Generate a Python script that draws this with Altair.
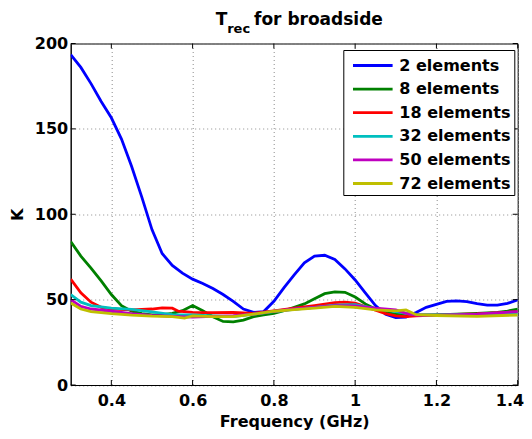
import altair as alt
import pandas as pd

# ---- data ----
labels = ["2 elements", "8 elements", "18 elements", "32 elements", "50 elements", "72 elements"]
colors = ["#0000FF", "#008000", "#FF0000", "#00BFBF", "#BF00BF", "#BFBF00"]

f_2 = [0.30, 0.325, 0.35, 0.375, 0.40, 0.425, 0.45, 0.475, 0.50, 0.525, 0.55, 0.575, 0.60, 0.625,
       0.65, 0.675, 0.70, 0.725, 0.75, 0.775, 0.80, 0.825, 0.85, 0.875, 0.90, 0.925, 0.95, 0.975,
       1.00, 1.025, 1.05, 1.075, 1.10, 1.125, 1.15, 1.175, 1.20, 1.225, 1.25, 1.275, 1.30, 1.325,
       1.35, 1.375, 1.40]
k_2 = [193.5, 186, 176.5, 166, 156.5, 144, 128, 110, 91, 77, 70, 65.5, 62, 59.5,
       56.5, 53, 49, 44.5, 42.5, 43, 49, 57, 64.5, 71.5, 75.5, 76, 73.5, 68,
       61.5, 54, 46.5, 41.5, 39.5, 39.8, 42.5, 45.5, 47.2, 49, 49.3, 48.8, 47.6, 46.8,
       46.8, 47.8, 49.8]

f_8 = [0.30, 0.325, 0.35, 0.375, 0.40, 0.425, 0.45, 0.475, 0.50, 0.525, 0.55, 0.575, 0.60, 0.625,
       0.65, 0.675, 0.70, 0.725, 0.75, 0.775, 0.80, 0.825, 0.85, 0.875, 0.90, 0.925, 0.95, 0.975,
       1.00, 1.025, 1.05, 1.075, 1.10, 1.125, 1.15, 1.20, 1.25, 1.30, 1.35, 1.375, 1.40]
k_8 = [84, 75.5, 68.5, 61, 53, 46.5, 43.2, 41.8, 41, 41.2, 42, 43.5, 46.5, 43.5,
       40, 37.2, 37, 38, 40, 41, 42, 43.5, 45.5, 47.5, 50.5, 53.5, 54.5, 54.3,
       51.5, 47.5, 44.5, 42.5, 41.5, 41, 41, 41, 41.5, 42, 42.5, 43.3, 44.4]

f_18 = [0.30, 0.325, 0.35, 0.375, 0.40, 0.45, 0.50, 0.525, 0.55, 0.565, 0.60, 0.65, 0.70, 0.75,
        0.80, 0.85, 0.90, 0.95, 0.975, 1.00, 1.025, 1.05, 1.075, 1.10, 1.125, 1.15, 1.20, 1.30, 1.40]
k_18 = [62, 54, 48.5, 45.5, 44.5, 44, 44.5, 45.2, 45, 43.2, 42.5, 42.3, 42.5, 42,
        43.4, 45, 46.5, 48.2, 48.5, 48, 46, 43.8, 41.8, 40.5, 40, 40.5, 41, 41.6, 43]

f_32 = [0.30, 0.325, 0.35, 0.40, 0.45, 0.50, 0.55, 0.60, 0.65, 0.70, 0.75, 0.80, 0.85, 0.90,
        0.95, 1.00, 1.05, 1.075, 1.10, 1.125, 1.15, 1.20, 1.30, 1.40]
k_32 = [53, 48.5, 46.5, 45, 44.3, 42.8, 41.2, 41, 40.5, 40, 41.5, 43, 44.3, 45.5,
        46.8, 47, 44.8, 43.8, 43, 42, 41.2, 41, 41.3, 42]

f_50 = [0.30, 0.325, 0.35, 0.40, 0.45, 0.50, 0.55, 0.60, 0.65, 0.70, 0.75, 0.80, 0.85, 0.90,
        0.95, 1.00, 1.05, 1.10, 1.125, 1.15, 1.20, 1.30, 1.40]
k_50 = [50, 46, 44.5, 43.2, 41.8, 40.8, 40.2, 39.8, 40.2, 40.6, 41.5, 43.2, 44.5, 45.5,
        46.5, 46.3, 45, 44, 42, 41, 40.7, 41.5, 43]

f_72 = [0.30, 0.325, 0.35, 0.40, 0.45, 0.50, 0.55, 0.58, 0.60, 0.65, 0.70, 0.75, 0.80, 0.85,
        0.90, 0.95, 1.00, 1.05, 1.10, 1.125, 1.15, 1.20, 1.30, 1.40]
k_72 = [48, 44.5, 43, 41.8, 40.9, 40.3, 40, 39.2, 40.5, 40, 40, 41.5, 43.2, 44.2,
        45, 46, 45.5, 44, 43.4, 44, 41.2, 40.7, 40.2, 41]

x_ticks = [0.4, 0.6, 0.8, 1.0, 1.2, 1.4]
y_ticks = [0, 50, 100, 150, 200]

series = [(labels[0], f_2, k_2), (labels[1], f_8, k_8), (labels[2], f_18, k_18),
          (labels[3], f_32, k_32), (labels[4], f_50, k_50), (labels[5], f_72, k_72)]
rows = []
for lab, fs, ks in series:
    for i, (f, k) in enumerate(zip(fs, ks)):
        rows.append({"series": lab, "f": f, "k": k, "i": i})
df = pd.DataFrame(rows)

W, H = 447, 341.5
FONT = "DejaVu Sans"

xscale = alt.Scale(domain=[0.3, 1.4], nice=False, zero=False)
yscale = alt.Scale(domain=[0, 200], nice=False)

lines = alt.Chart(df).mark_line(strokeWidth=2.8, clip=True).encode(
    x=alt.X("f:Q", scale=xscale,
            axis=alt.Axis(values=x_ticks, title="Frequency (GHz)", labelPadding=7,
                          titlePadding=5, labelFlush=True, labelFlushOffset=6,
                          labelExpr="format(datum.value, '.1~f')")),
    y=alt.Y("k:Q", scale=yscale,
            axis=alt.Axis(values=y_ticks, title="K", labelPadding=3, titlePadding=9)),
    color=alt.Color("series:N", title=None,
                    scale=alt.Scale(domain=labels, range=colors),
                    legend=alt.Legend(orient="none", legendX=272.6, legendY=6.5,
                                      symbolType="M-1.8,0L1.8,0", symbolSize=484,
                                      symbolStrokeWidth=2.8, symbolOffset=14,
                                      labelOffset=14, padding=3, rowPadding=2.6,
                                      labelFont=FONT, labelFontSize=16,
                                      labelFontWeight="bold", labelColor="black",
                                      strokeColor="black", fillColor="white",
                                      cornerRadius=0)),
    order="i:Q",
)

xt = pd.DataFrame({"f": x_ticks})
yt = pd.DataFrame({"k": y_ticks})
tick_b = alt.Chart(xt).mark_rule(color="black", strokeWidth=1).encode(
    x=alt.X("f:Q", scale=xscale), y=alt.value(H), y2=alt.value(H - 5))
tick_t = alt.Chart(xt).mark_rule(color="black", strokeWidth=1).encode(
    x=alt.X("f:Q", scale=xscale), y=alt.value(0), y2=alt.value(5))
tick_l = alt.Chart(yt).mark_rule(color="black", strokeWidth=1).encode(
    y=alt.Y("k:Q", scale=yscale), x=alt.value(0), x2=alt.value(5))
tick_r = alt.Chart(yt).mark_rule(color="black", strokeWidth=1).encode(
    y=alt.Y("k:Q", scale=yscale), x=alt.value(W - 5), x2=alt.value(W))

t1 = alt.Chart(pd.DataFrame({"t": ["T"]})).mark_text(
    font=FONT, fontSize=17, fontWeight="bold", align="left", baseline="alphabetic", color="black"
).encode(text="t:N", x=alt.value(145), y=alt.value(-19))
t2 = alt.Chart(pd.DataFrame({"t": ["rec"]})).mark_text(
    font=FONT, fontSize=13, fontWeight="bold", align="left", baseline="alphabetic", color="black"
).encode(text="t:N", x=alt.value(156.5), y=alt.value(-10.5))
t3 = alt.Chart(pd.DataFrame({"t": ["for broadside"]})).mark_text(
    font=FONT, fontSize=17, fontWeight="bold", align="left", baseline="alphabetic", color="black"
).encode(text="t:N", x=alt.value(183.3), y=alt.value(-19))

chart = alt.layer(lines, tick_b, tick_t, tick_l, tick_r, t1, t2, t3).properties(
    width=W, height=H,
    autosize=alt.AutoSizeParams(type="none"),
    padding={"left": 62.7, "top": 35.5, "right": 6.3, "bottom": 45.5},
    background="white",
).configure_view(
    stroke="black", strokeWidth=1
).configure_axis(
    labelFont=FONT, labelFontSize=16, labelFontWeight="bold", labelColor="black",
    titleFont=FONT, titleFontSize=16, titleFontWeight="bold", titleColor="black",
    domainColor="black", domainWidth=1, ticks=False,
    grid=True, gridColor="#8c8c8c", gridDash=[1, 3], gridWidth=1,
)

chart.save("out.html", embed_options={"renderer": "svg", "actions": False})
